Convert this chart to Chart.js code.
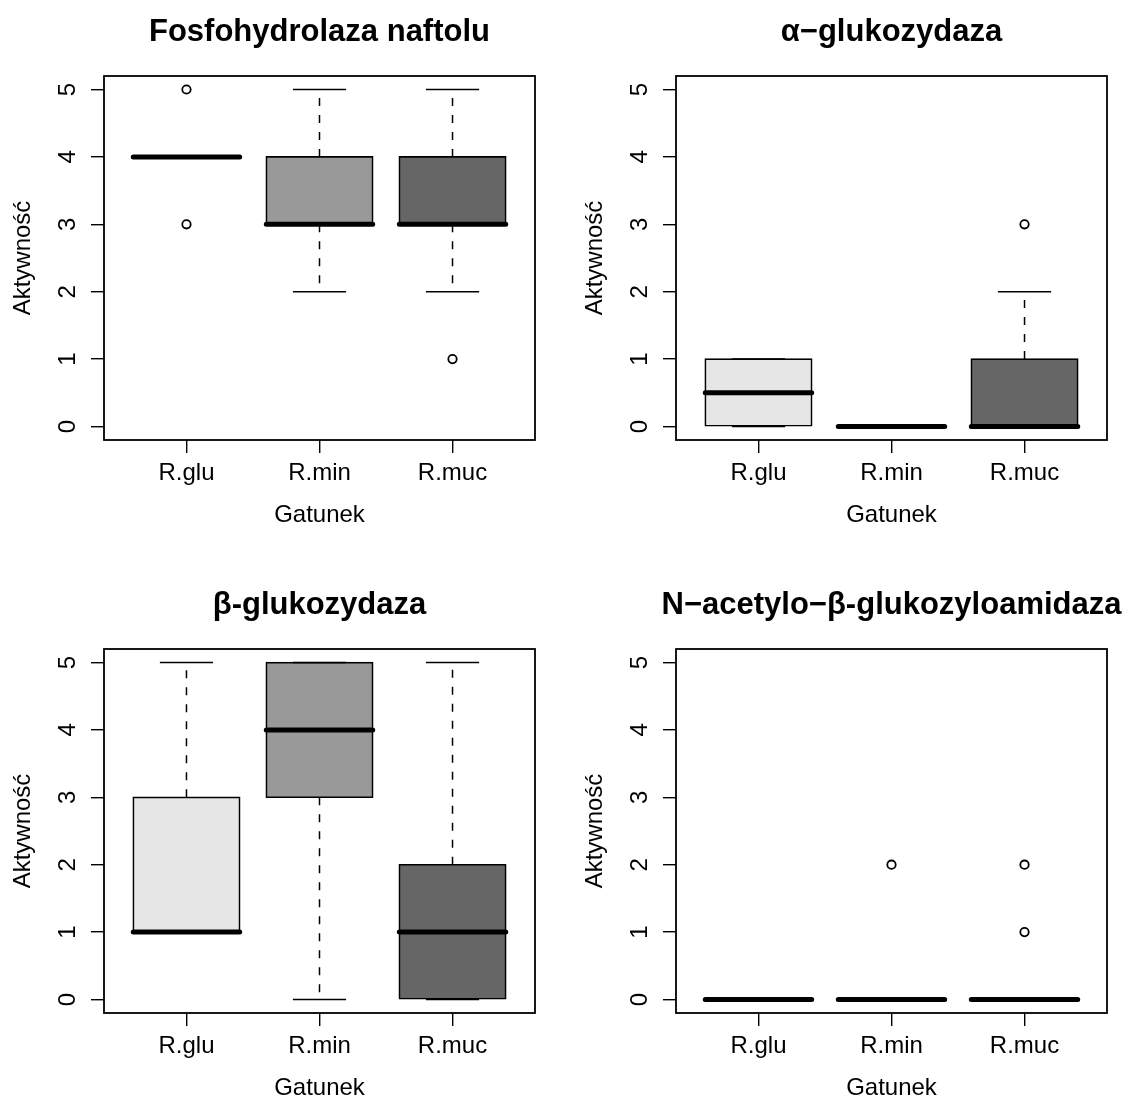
<!DOCTYPE html>
<html lang="pl">
<head>
<meta charset="utf-8">
<title>Aktywność enzymów</title>
<script src="https://cdn.jsdelivr.net/npm/chart.js@4.4.1/dist/chart.umd.min.js"></script>
<style>
  html, body { margin: 0; padding: 0; background: #fff; overflow: hidden; }
  body { width: 1134px; height: 1101px; position: relative; }
  canvas { position: absolute; }
</style>
</head>
<body>
<canvas id="fosfo" width="639" height="550" style="left:0;top:0"></canvas>
<canvas id="alfa" width="639" height="550" style="left:572px;top:0"></canvas>
<canvas id="beta" width="639" height="550" style="left:0;top:573px"></canvas>
<canvas id="nag" width="639" height="550" style="left:572px;top:573px"></canvas>
<script>
// species on the x axis
const gatunki = ["R.glu", "R.min", "R.muc"];
// y axis tick values
const osY = [0, 1, 2, 3, 4, 5];

// box stats per species: [lower whisker, Q1, median, Q3, upper whisker]
const fosfohydrolaza = [[4, 4, 4, 4, 4], [2, 3, 3, 4, 5], [2, 3, 3, 4, 5]];
const fosfohydrolazaOut = [[5, 3], [], [1]];

const alfaGlukozydaza = [[0, 0, 0.5, 1, 1], [0, 0, 0, 0, 0], [0, 0, 0, 1, 2]];
const alfaGlukozydazaOut = [[], [], [3]];

const betaGlukozydaza = [[1, 1, 1, 3, 5], [0, 3, 4, 5, 5], [0, 0, 1, 2, 5]];
const betaGlukozydazaOut = [[], [], []];

const acetyloGlukozyloamidaza = [[0, 0, 0, 0, 0], [0, 0, 0, 0, 0], [0, 0, 0, 0, 0]];
const acetyloGlukozyloamidazaOut = [[], [2], [2, 1]];

// box fills (gray90, gray60, gray40)
const wypelnienie = ["#e6e6e6", "#999999", "#666666"];

const BOX_HALF = 0.4;      // half of box width, x units
const STAPLE_HALF = 0.2;   // half of whisker cap width
const FONT_FAMILY = "'Liberation Sans', Arial, Helvetica, sans-serif";
const osFont = { family: FONT_FAMILY, size: 24 };

/* Box border around the plot region */
const ramka = {
  id: "ramka",
  afterDatasetsDraw(chart) {
    const { ctx, chartArea: a } = chart;
    ctx.save();
    ctx.strokeStyle = "#000";
    ctx.lineWidth = 1.8;
    ctx.strokeRect(a.left, a.top, a.right - a.left, a.bottom - a.top);
    ctx.restore();
  },
};

function boxplot(canvasId, tytul, stats, outliers) {
  const boxes = [];
  const medians = [];
  const whiskers = [];
  const staples = [];
  const points = [];

  stats.forEach((s, i) => {
    const x = i + 1;
    const [lo, q1, med, q3, hi] = s;
    boxes.push({ x: x, y: [q1, q3] });
    medians.push({ x: x - BOX_HALF, y: med }, { x: x + BOX_HALF, y: med }, { x: x, y: null });
    whiskers.push(
      { x: x, y: q3 }, { x: x, y: hi }, { x: x, y: null },
      { x: x, y: q1 }, { x: x, y: lo }, { x: x, y: null }
    );
    staples.push(
      { x: x - STAPLE_HALF, y: hi }, { x: x + STAPLE_HALF, y: hi }, { x: x, y: null },
      { x: x - STAPLE_HALF, y: lo }, { x: x + STAPLE_HALF, y: lo }, { x: x, y: null }
    );
    outliers[i].forEach((v) => points.push({ x: x, y: v }));
  });

  const segment = {
    type: "line",
    pointRadius: 0,
    borderColor: "#000",
    spanGaps: false,
    tension: 0,
  };

  return new Chart(document.getElementById(canvasId), {
    type: "bar",
    data: {
      datasets: [
        {
          data: boxes,
          backgroundColor: wypelnienie,
          borderColor: "#000",
          borderWidth: 1.7,
          borderSkipped: false,
          inflateAmount: 0.8,
          barPercentage: 2 * BOX_HALF,
          categoryPercentage: 1,
          order: 4,
        },
        { ...segment, data: whiskers, borderWidth: 1.5, borderDash: [8, 9], order: 3 },
        { ...segment, data: staples, borderWidth: 1.5, order: 3 },
        { ...segment, data: medians, borderWidth: 5, borderCapStyle: "round", order: 1 },
        {
          type: "scatter",
          data: points,
          pointStyle: "circle",
          pointRadius: 4.2,
          pointBorderWidth: 1.8,
          pointBackgroundColor: "#fff",
          pointBorderColor: "#000",
          order: 0,
        },
      ],
    },
    options: {
      responsive: false,
      animation: false,
      events: [],
      plugins: {
        legend: { display: false },
        tooltip: { enabled: false },
        title: {
          display: true,
          text: tytul,
          color: "#000",
          font: { family: FONT_FAMILY, size: 31, weight: "bold", lineHeight: 1 },
          padding: { top: 16.5, bottom: 28.5 },
        },
      },
      scales: {
        x: {
          type: "linear",
          min: 0.38,
          max: 3.62,
          offset: false,
          bounds: "data",
          afterBuildTicks: (s) => { s.ticks = gatunki.map((g, i) => ({ value: i + 1 })); },
          afterFit: (s) => { s.height = 110; },
          ticks: {
            callback: (v) => gatunki[v - 1],
            color: "#000",
            font: osFont,
            padding: 6,
            maxRotation: 0,
            autoSkip: false,
          },
          grid: { offset: false, drawOnChartArea: false, tickLength: 13, color: "#000", lineWidth: 1.4 },
          border: { display: false },
          title: { display: true, text: "Gatunek", color: "#000", font: osFont, padding: { top: 0, bottom: 20 } },
        },
        y: {
          min: -0.2,
          max: 5.2,
          bounds: "data",
          afterBuildTicks: (s) => { s.ticks = osY.map((v) => ({ value: v })); },
          afterFit: (s) => { s.width = 104; },
          ticks: {
            color: "#000",
            font: osFont,
            padding: 16,
            minRotation: 90,
            maxRotation: 90,
            crossAlign: "center",
          },
          grid: { drawOnChartArea: false, tickLength: 13, color: "#000", lineWidth: 1.4 },
          border: { display: false },
          title: { display: true, text: "Aktywność", color: "#000", font: osFont, padding: { top: 9, bottom: 0 } },
        },
        // empty right axis, only keeps the right margin
        y2: {
          position: "right",
          display: true,
          grid: { display: false },
          ticks: { display: false },
          border: { display: false },
          afterFit: (s) => { s.width = 104; },
        },
      },
    },
    plugins: [ramka],
  });
}

boxplot("fosfo", "Fosfohydrolaza naftolu", fosfohydrolaza, fosfohydrolazaOut);
boxplot("alfa", "α\u2212glukozydaza", alfaGlukozydaza, alfaGlukozydazaOut);
boxplot("beta", "β-glukozydaza", betaGlukozydaza, betaGlukozydazaOut);
boxplot("nag", "N\u2212acetylo\u2212β-glukozyloamidaza", acetyloGlukozyloamidaza, acetyloGlukozyloamidazaOut);
</script>
</body>
</html>
